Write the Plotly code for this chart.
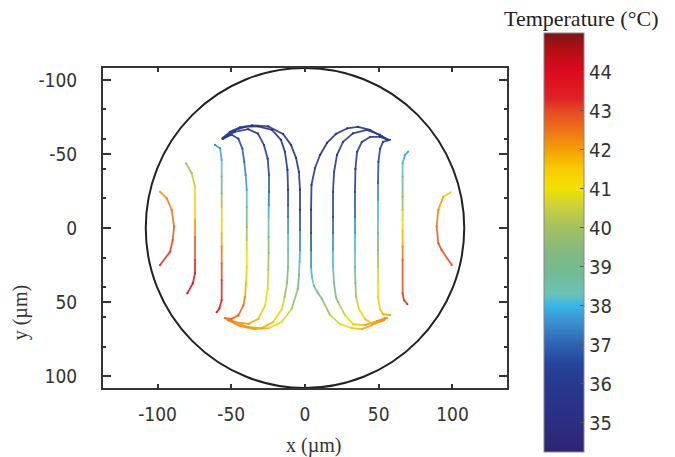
import plotly.graph_objects as go
from plotly.colors import sample_colorscale

# ---------------- data (x, y in µm; T in °C) ----------------
L7_x = [-98.3, -93.8, -90.4, -88.8, -89.7, -91.5, -98.3]
L7_y = [-24.5, -20.1, -12.2, -0.9, 8.1, 16.0, 25.0]
L7_t = [42.0, 42.2, 42.4, 42.6, 42.9, 43.1, 43.3]

L6_x = [-80.7, -76.8, -74.6, -74.6, -74.6, -74.6, -74.6, -74.6, -76.1, -79.8]
L6_y = [-43.7, -37.0, -27.9, -20.9, -5.4, 6.1, 21.6, 30.6, 37.4, 44.1]
L6_t = [39.8, 40.2, 40.7, 41.0, 41.8, 42.5, 43.2, 43.5, 43.7, 43.9]

L5_x = [-61.0, -57.6, -56.5, -56.5, -56.5, -56.5, -56.5, -56.5, -56.5, -56.5, -56.5, -56.5, -58.1, -59.9]
L5_y = [-56.1, -53.9, -45.9, -34.7, -23.4, -14.4, -5.4, 3.6, 12.6, 23.9, 35.1, 48.6, 54.3, 56.8]
L5_t = [37.5, 37.7, 38.0, 38.6, 39.5, 40.5, 41.0, 41.6, 42.2, 42.7, 43.1, 43.4, 43.5, 43.5]

L4_x = [-56.1, -49.7, -45.2, -42.5, -41.2, -40.2, -39.5, -39.5, -39.5, -39.5, -39.5, -39.5, -40.0, -40.7, -41.8, -45.2, -49.7, -54.2]
L4_y = [-60.3, -63.0, -60.3, -53.6, -44.6, -35.6, -25.7, -14.2, -0.7, 8.1, 14.9, 26.4, 37.2, 46.6, 52.2, 59.0, 61.3, 60.8]
L4_t = [36.3, 36.3, 36.4, 36.8, 37.2, 37.6, 38.0, 38.6, 39.5, 40.4, 41.0, 41.2, 41.6, 42.2, 42.5, 42.7, 42.8, 42.9]

L3_x = [-55.6, -47.5, -38.6, -31.9, -27.8, -25.3, -24.4, -24.4, -24.6, -24.7, -24.7, -24.7, -24.9, -25.3, -27.1, -31.7, -38.4, -47.5, -53.1]
L3_y = [-60.1, -64.9, -66.7, -63.7, -55.9, -46.8, -35.8, -24.3, -15.5, -7.4, 6.1, 16.9, 28.4, 41.0, 52.2, 61.3, 64.7, 63.5, 61.3]
L3_t = [36.2, 35.9, 35.7, 35.8, 36.0, 36.3, 36.7, 37.1, 37.6, 38.3, 39.0, 39.7, 40.4, 40.9, 41.3, 41.8, 42.0, 42.2, 42.3]

L2_x = [-55.6, -48.8, -40.7, -31.9, -22.4, -16.3, -13.6, -11.9, -11.5, -11.5, -11.5, -11.5, -11.5, -11.5, -12.2, -13.9, -15.6, -21.7, -29.2, -38.6, -47.5, -52.9]
L2_y = [-60.8, -65.5, -68.2, -68.6, -66.2, -59.5, -51.4, -39.2, -25.7, -15.5, -7.4, 3.4, 14.9, 26.4, 37.2, 46.6, 54.7, 63.5, 67.6, 66.9, 63.5, 61.5]
L2_t = [36.2, 35.9, 35.7, 35.5, 35.5, 35.6, 35.8, 36.0, 36.2, 36.8, 37.3, 37.9, 38.5, 39.0, 39.6, 40.3, 41.0, 41.7, 42.0, 42.1, 42.2, 42.3]

L1_x = [-55.6, -50.9, -44.1, -35.9, -25.1, -14.9, -9.5, -6.1, -4.1, -3.4, -3.4, -3.4, -3.4, -3.7, -4.1, -4.9, -9.0, -15.8, -24.9, -33.9, -44.1, -52.2]
L1_y = [-60.8, -64.9, -67.9, -69.3, -68.6, -63.5, -56.1, -47.3, -37.8, -25.7, -12.2, 1.4, 14.9, 23.0, 31.8, 41.2, 54.5, 63.5, 67.6, 68.2, 66.2, 62.2]
L1_t = [36.2, 36.0, 35.8, 35.6, 35.5, 35.5, 35.6, 35.7, 35.8, 35.8, 36.1, 37.0, 37.8, 38.2, 38.7, 39.2, 40.3, 41.0, 41.6, 42.0, 42.2, 42.4]

R1_x = [56.3, 52.2, 44.1, 35.9, 28.5, 21.0, 14.9, 10.2, 6.8, 4.4, 4.1, 4.1, 4.1, 4.1, 4.7, 6.1, 8.8, 11.5, 17.0, 23.7, 31.9, 38.6, 45.4, 50.9, 53.6]
R1_y = [-59.5, -61.8, -66.2, -68.2, -67.2, -63.5, -57.4, -49.3, -40.5, -29.1, -12.2, 3.4, 14.9, 26.4, 33.1, 39.2, 43.9, 48.0, 58.8, 64.9, 67.6, 68.2, 65.5, 62.8, 62.2]
R1_t = [36.3, 36.0, 35.7, 35.5, 35.5, 35.5, 35.6, 35.7, 35.8, 35.8, 35.9, 36.5, 37.2, 37.8, 38.2, 38.5, 38.9, 39.3, 40.3, 40.9, 41.4, 41.8, 42.0, 42.1, 42.2]

R2_x = [56.3, 50.9, 42.0, 32.5, 25.8, 21.7, 19.7, 19.0, 19.0, 19.0, 19.0, 19.0, 19.7, 21.0, 22.4, 27.1, 32.5, 40.7, 48.8, 54.2]
R2_y = [-59.5, -62.8, -66.2, -63.9, -58.1, -49.3, -37.8, -24.3, -7.4, 3.4, 14.9, 26.4, 37.2, 46.6, 50.0, 58.8, 64.9, 65.5, 62.8, 60.8]
R2_t = [36.3, 36.0, 35.7, 35.7, 35.8, 35.9, 36.0, 36.1, 36.5, 37.2, 37.8, 38.3, 38.6, 39.5, 39.8, 40.8, 41.4, 41.9, 42.1, 42.2]

R3_x = [56.3, 50.9, 44.1, 38.6, 35.3, 34.2, 33.9, 33.9, 33.9, 33.9, 33.9, 34.2, 34.6, 36.6, 40.7, 46.1, 52.2, 55.6]
R3_y = [-59.5, -61.5, -61.5, -58.1, -51.4, -39.9, -24.3, -7.4, 3.4, 14.9, 26.4, 37.2, 46.6, 54.7, 61.5, 64.9, 62.8, 60.8]
R3_t = [36.3, 36.1, 36.0, 36.0, 36.0, 36.1, 36.4, 37.2, 37.8, 38.3, 38.6, 39.3, 40.2, 41.0, 41.5, 41.9, 42.1, 42.2]

R4_x = [57.6, 52.9, 50.9, 49.8, 49.5, 49.5, 49.5, 49.5, 49.5, 49.5, 49.5, 49.5, 50.9, 52.9, 57.6]
R4_y = [-59.5, -58.1, -53.4, -44.6, -30.4, -18.9, -7.4, 3.4, 14.9, 26.4, 37.2, 46.6, 54.7, 58.1, 58.8]
R4_t = [36.3, 36.2, 36.2, 36.5, 37.0, 37.8, 38.3, 38.8, 39.5, 40.4, 41.0, 41.2, 41.5, 41.8, 42.0]

R5_x = [70.0, 67.8, 66.2, 66.2, 66.2, 66.2, 66.2, 66.2, 66.2, 66.2, 66.2, 67.1, 69.4]
R5_y = [-51.6, -49.3, -43.7, -34.7, -21.1, -12.2, -5.4, 1.4, 12.6, 21.6, 44.1, 48.6, 51.4]
R5_t = [37.8, 37.9, 38.1, 38.5, 39.5, 40.3, 41.0, 41.5, 42.2, 42.7, 43.1, 43.2, 43.2]

R6_x = [98.8, 93.8, 90.4, 89.3, 90.4, 92.7, 99.5]
R6_y = [-23.9, -21.1, -12.2, -0.9, 10.3, 14.9, 25.0]
R6_t = [41.3, 41.8, 42.2, 42.5, 42.9, 43.0, 42.8]

circle_radius = 108
x_ticks = [-100, -50, 0, 50, 100]
x_tick_text = ["-100", "-50", "0", "50", "100"]
y_ticks = [-100, -50, 0, 50, 100]
y_tick_text = ["-100", "-50", "0", "50", "100"]
y_minor_ticks = [-100, -80, -60, -40, -20, 0, 20, 40, 60, 80, 100]
cbar_ticks = [35, 36, 37, 38, 39, 40, 41, 42, 43, 44]
t_min, t_max = 34.25, 45.0

colorscale = [
    [0.000, "#2e2470"], [0.070, "#2c2e84"], [0.163, "#27398e"], [0.209, "#26449c"],
    [0.256, "#2c62b2"], [0.312, "#3c92d2"], [0.349, "#38b6e6"], [0.377, "#6cc2b8"],
    [0.423, "#6fbc96"], [0.479, "#84ba7e"], [0.535, "#a2c060"], [0.591, "#cfd236"],
    [0.628, "#f2e200"], [0.674, "#f8cc00"], [0.721, "#f5a005"], [0.767, "#ee7418"],
    [0.814, "#e64a22"], [0.842, "#e02424"], [0.907, "#dc0a1e"], [0.963, "#b00f14"],
    [1.000, "#7a1414"],
]

curves = [
    (L7_x, L7_y, L7_t), (L6_x, L6_y, L6_t), (L5_x, L5_y, L5_t), (L4_x, L4_y, L4_t),
    (L3_x, L3_y, L3_t), (L2_x, L2_y, L2_t), (L1_x, L1_y, L1_t),
    (R1_x, R1_y, R1_t), (R2_x, R2_y, R2_t), (R3_x, R3_y, R3_t), (R4_x, R4_y, R4_t),
    (R5_x, R5_y, R5_t), (R6_x, R6_y, R6_t),
]

fig = go.Figure()

for cx, cy, ct in curves:
    for i in range(len(cx) - 1):
        tm = 0.5 * (ct[i] + ct[i + 1])
        frac = min(max((tm - t_min) / (t_max - t_min), 0), 1)
        col = sample_colorscale(colorscale, [frac])[0]
        fig.add_trace(go.Scatter(
            x=[cx[i], cx[i + 1]], y=[cy[i], cy[i + 1]], mode="lines",
            line=dict(color=col, width=1.8), opacity=0.9, hoverinfo="skip", showlegend=False))

all_x = [v for c in curves for v in c[0]]
all_y = [v for c in curves for v in c[1]]
all_t = [v for c in curves for v in c[2]]

num_font = "Liberation Sans Narrow, DejaVu Sans Condensed, Liberation Sans"

fig.add_trace(go.Scatter(
    x=all_x, y=all_y, mode="markers", showlegend=False,
    marker=dict(size=2.2, color=all_t, colorscale=colorscale, cmin=t_min, cmax=t_max,
                line=dict(width=0),
                colorbar=dict(
                    x=1.0916, xanchor="left", xpad=0, ypad=0,
                    y=0.455, yanchor="middle", len=1.309, lenmode="fraction",
                    thickness=40, thicknessmode="pixels",
                    tickvals=cbar_ticks, ticks="inside", ticklen=4, tickcolor="#555",
                    outlinewidth=1, outlinecolor="#888",
                    tickfont=dict(family=num_font, size=20, color="#333"),
                )),
    hovertemplate="x=%{x}<br>y=%{y}<br>T=%{marker.color}<extra></extra>"))

fig.add_shape(type="circle", xref="x", yref="y",
              x0=-circle_radius, x1=circle_radius, y0=-circle_radius, y1=circle_radius,
              line=dict(color="#222", width=2), layer="below")

tick_font = dict(family=num_font, size=19, color="#333")
serif = "Liberation Serif, Times New Roman, serif"

fig.update_layout(
    width=675, height=457,
    margin=dict(l=103, r=168, t=68, b=69, autoexpand=False),
    paper_bgcolor="white", plot_bgcolor="white",
    xaxis=dict(range=[-137, 137], tickvals=x_ticks, ticktext=x_tick_text, ticks="inside", ticklen=4, tickwidth=1.5,
               tickcolor="#333", showline=True, linecolor="#333", linewidth=2, mirror="ticks",
               showgrid=False, zeroline=False, tickfont=tick_font, ticklabelstandoff=8),
    yaxis=dict(range=[108, -108], tickvals=y_ticks, ticktext=y_tick_text, ticks="inside", ticklen=8, tickwidth=1.5,
               tickcolor="#333", showline=True, linecolor="#333", linewidth=2, mirror="ticks",
               showgrid=False, zeroline=False, tickfont=tick_font, ticklabelstandoff=20,
               minor=dict(tickvals=y_minor_ticks, ticks="inside", ticklen=3, tickcolor="#333")),
    annotations=[
        dict(text="x (µm)", xref="paper", yref="paper", x=0.52, y=-0.181, showarrow=False,
             xanchor="center", yanchor="middle", font=dict(family=serif, size=20, color="#333")),
        dict(text="y (µm)", xref="paper", yref="paper", x=-0.205, y=0.234, showarrow=False,
             textangle=-90, xanchor="center", yanchor="middle", font=dict(family=serif, size=20, color="#333")),
        dict(text="Temperature (°C)", xref="paper", yref="paper", x=1.183, y=1.156, showarrow=False,
             xanchor="center", yanchor="middle", font=dict(family=serif, size=22, color="#222")),
    ],
)

fig.write_html(
    "out.html",
    config={"displayModeBar": False},
    post_script="document.body.style.margin='0';document.body.style.overflow='hidden';",
)
